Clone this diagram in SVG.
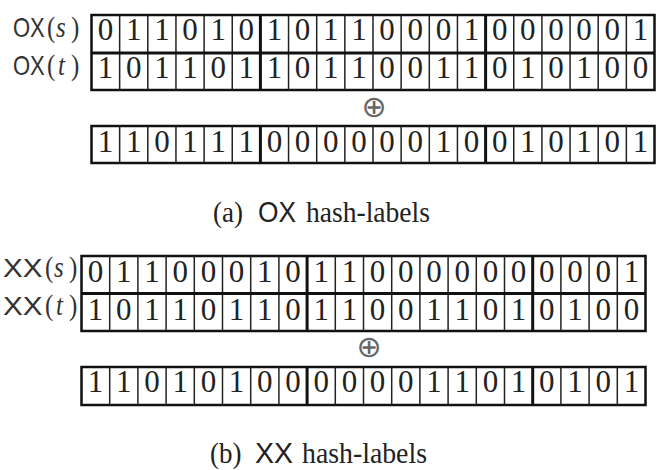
<svg xmlns="http://www.w3.org/2000/svg" width="657" height="470" viewBox="0 0 657 470">
<style>
.bg{fill:#fff}
.box{fill:none;stroke:#111;stroke-width:2.5}
.thin{fill:none;stroke:#222;stroke-width:1.5}
.thick{fill:none;stroke:#111;stroke-width:3}
.dig{font-family:"Liberation Serif",serif;font-size:31px;fill:#222;text-anchor:middle}
.sf{font-family:"Liberation Sans",sans-serif}
.rm{font-family:"Liberation Serif",serif}
.it{font-family:"Liberation Serif",serif;font-style:italic}
.lab{font-size:22px;fill:#333}
.par{font-size:25px;fill:#333}
.cap{font-size:27px;fill:#222}
.op{font-family:"DejaVu Sans",sans-serif;font-size:30px;fill:#666;text-anchor:middle}
</style>
<rect class="bg" width="657" height="470"/>
<g id="connectors"></g>

<g id="ox-labels">
<text class="lab sf" transform="translate(13,37) scale(1,1.25)">OX</text>
<text class="par" transform="translate(0,37) scale(1,1.15)"><tspan x="47" class="rm">(</tspan><tspan x="56" class="it">s</tspan><tspan x="71" class="rm">)</tspan></text>
<text class="lab sf" transform="translate(13,75) scale(1,1.25)">OX</text>
<text class="par" transform="translate(0,75) scale(1,1.15)"><tspan x="47" class="rm">(</tspan><tspan x="58" class="it">t</tspan><tspan x="71" class="rm">)</tspan></text>
</g>

<g id="ox-table">
<rect class="box" x="91.5" y="15" width="563" height="75"/>
<path class="thin" d="M119.65 15V90M147.8 15V90M175.95 15V90M204.1 15V90M232.25 15V90M288.55 15V90M316.7 15V90M344.85 15V90M373 15V90M401.15 15V90M429.3 15V90M457.45 15V90M513.75 15V90M541.9 15V90M570.05 15V90M598.2 15V90M626.35 15V90"/>
<path class="thick" d="M260.4 15V90M485.6 15V90M91.5 53H654.5"/>
<text class="dig" x="105.6 133.7 161.9 190 218.2 246.3 274.5 302.6 330.8 358.9 387.1 415.2 443.4 471.5 499.7 527.8 556 584.1 612.3 640.4" y="40">01101010110001000001</text>
<text class="dig" x="105.6 133.7 161.9 190 218.2 246.3 274.5 302.6 330.8 358.9 387.1 415.2 443.4 471.5 499.7 527.8 556 584.1 612.3 640.4" y="78">10110110110011010100</text>
</g>

<g id="ox-op"><text class="op" x="374" y="117">⊕</text></g>

<g id="ox-result">
<rect class="box" x="91.5" y="126" width="563" height="37"/>
<path class="thin" d="M119.65 126V163M147.8 126V163M175.95 126V163M204.1 126V163M232.25 126V163M288.55 126V163M316.7 126V163M344.85 126V163M373 126V163M401.15 126V163M429.3 126V163M457.45 126V163M513.75 126V163M541.9 126V163M570.05 126V163M598.2 126V163M626.35 126V163"/>
<path class="thick" d="M260.4 126V163M485.6 126V163"/>
<text class="dig" x="105.6 133.7 161.9 190 218.2 246.3 274.5 302.6 330.8 358.9 387.1 415.2 443.4 471.5 499.7 527.8 556 584.1 612.3 640.4" y="152">11011100000010010101</text>
</g>

<g id="caption-a">
<text class="cap" transform="translate(0,222) scale(1,1.12)"><tspan x="213" class="rm">(a)</tspan><tspan x="258" class="sf" textLength="38" lengthAdjust="spacingAndGlyphs">OX</tspan><tspan x="306" class="rm" textLength="124" lengthAdjust="spacingAndGlyphs">hash-labels</tspan></text>
</g>

<g id="xx-labels">
<text class="lab sf" transform="translate(3,277) scale(1.35,1.2)">XX</text>
<text class="par" transform="translate(0,277) scale(1,1.15)"><tspan x="45" class="rm">(</tspan><tspan x="54" class="it">s</tspan><tspan x="69" class="rm">)</tspan></text>
<text class="lab sf" transform="translate(3,315) scale(1.35,1.2)">XX</text>
<text class="par" transform="translate(0,315) scale(1,1.15)"><tspan x="45" class="rm">(</tspan><tspan x="56" class="it">t</tspan><tspan x="69" class="rm">)</tspan></text>
</g>

<g id="xx-table">
<rect class="box" x="81.5" y="256" width="564" height="75"/>
<path class="thin" d="M109.7 256V331M137.9 256V331M166.1 256V331M194.3 256V331M222.5 256V331M250.7 256V331M278.9 256V331M335.3 256V331M363.5 256V331M391.7 256V331M419.9 256V331M448.1 256V331M476.3 256V331M504.5 256V331M560.9 256V331M589.1 256V331M617.3 256V331"/>
<path class="thick" d="M307.1 256V331M532.7 256V331M81.5 293.5H645.5"/>
<text class="dig" x="95.6 123.8 152 180.2 208.4 236.6 264.8 293 321.2 349.4 377.6 405.8 434 462.2 490.4 518.6 546.8 575 603.2 631.4" y="282">01100010110000000001</text>
<text class="dig" x="95.6 123.8 152 180.2 208.4 236.6 264.8 293 321.2 349.4 377.6 405.8 434 462.2 490.4 518.6 546.8 575 603.2 631.4" y="320">10110110110011010100</text>
</g>

<g id="xx-op"><text class="op" x="369" y="357">⊕</text></g>

<g id="xx-result">
<rect class="box" x="81.5" y="367" width="564" height="38"/>
<path class="thin" d="M109.7 367V405M137.9 367V405M166.1 367V405M194.3 367V405M222.5 367V405M250.7 367V405M278.9 367V405M335.3 367V405M363.5 367V405M391.7 367V405M419.9 367V405M448.1 367V405M476.3 367V405M504.5 367V405M560.9 367V405M589.1 367V405M617.3 367V405"/>
<path class="thick" d="M307.1 367V405M532.7 367V405"/>
<text class="dig" x="95.6 123.8 152 180.2 208.4 236.6 264.8 293 321.2 349.4 377.6 405.8 434 462.2 490.4 518.6 546.8 575 603.2 631.4" y="392">11010100000011010101</text>
</g>

<g id="caption-b">
<text class="cap" transform="translate(0,463) scale(1,1.12)"><tspan x="210" class="rm">(b)</tspan><tspan x="255" class="sf" textLength="38" lengthAdjust="spacingAndGlyphs">XX</tspan><tspan x="302" class="rm" textLength="125" lengthAdjust="spacingAndGlyphs">hash-labels</tspan></text>
</g>
</svg>
